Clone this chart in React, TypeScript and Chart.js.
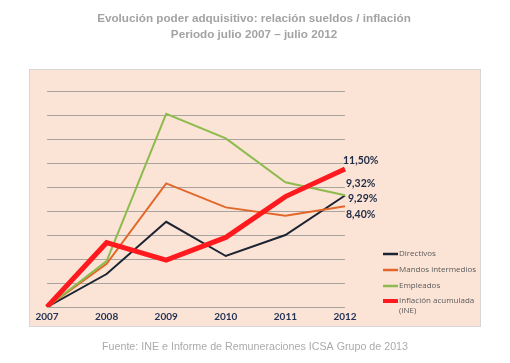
import React, { useEffect, useRef } from 'react';
import { Chart, registerables } from 'chart.js';
Chart.register(...registerables);

const years = ['2007', '2008', '2009', '2010', '2011', '2012'];
const directivos = [0, 2.75, 7.1, 4.25, 6.0, 9.29];
const mandos = [0, 3.6, 10.3, 8.3, 7.6, 8.4];
const empleados = [0, 3.83, 16.1, 14.05, 10.4, 9.32];
const inflacion = [0, 5.36, 3.9, 5.8, 9.2, 11.5];

const yMin = 0;
const yMax = 18;
const yStep = 2;

const titleLines = [
  'Evolución poder adquisitivo: relación sueldos / inflación',
  'Periodo julio 2007 – julio 2012',
];
const footer = 'Fuente: INE e Informe de Remuneraciones ICSA Grupo de 2013';

const endLabels = [
  { text: '11,50%', value: 11.5, dx: -2, dy: -8 },
  { text: '9,32%', value: 9.32, dx: 1, dy: -12 },
  { text: '9,29%', value: 9.29, dx: 3, dy: 3 },
  { text: '8,40%', value: 8.4, dx: 1, dy: 8 },
];

const series = [
  { name: 'Directivos', data: directivos, color: '#1C2333', width: 2 },
  { name: 'Mandos intermedios', data: mandos, color: '#E2672A', width: 2 },
  { name: 'Empleados', data: empleados, color: '#8DBB4E', width: 2 },
  { name: 'Inflación acumulada\n(INE)', data: inflacion, color: '#FF1A1F', width: 5 },
];

export default function App() {
  const ref = useRef<HTMLCanvasElement>(null);
  useEffect(() => {
    const deco = {
      id: 'deco',
      beforeDraw(chart: any) {
        const ctx = chart.ctx;
        ctx.save();
        ctx.fillStyle = '#ffffff';
        ctx.fillRect(0, 0, chart.width, chart.height);
        ctx.fillStyle = '#FBE4D5';
        ctx.fillRect(29.5, 69.5, 451, 257);
        ctx.strokeStyle = '#D6D6D6';
        ctx.lineWidth = 1;
        ctx.strokeRect(29.5, 69.5, 451, 257);
        ctx.restore();
      },
      afterDraw(chart: any) {
        const ctx = chart.ctx;
        ctx.save();
        ctx.textAlign = 'center';
        ctx.textBaseline = 'middle';
        ctx.fillStyle = '#A3A3A3';
        ctx.font = 'bold 11.7px "Liberation Sans", Arial, sans-serif';
        ctx.fillText(titleLines[0], 254, 19);
        ctx.fillText(titleLines[1], 254, 35);
        ctx.font = '10.7px "Liberation Sans", Arial, sans-serif';
        ctx.fillStyle = '#ABABAB';
        ctx.fillText(footer, 255, 347);

        const xs = chart.scales.x;
        const ys = chart.scales.y;
        const xEnd = xs.getPixelForValue(years.length - 1);
        ctx.textAlign = 'left';
        ctx.fillStyle = '#1F2A44';
        ctx.font = 'bold 10.5px Lato, sans-serif';
        endLabels.forEach((l) => {
          ctx.fillText(l.text, xEnd + l.dx, ys.getPixelForValue(l.value) + l.dy);
        });

        // legend
        const lx = 383;
        const ly = [254, 270, 286, 301];
        ctx.font = '8px "Open Sans", sans-serif';
        series.forEach((s, i) => {
          ctx.strokeStyle = s.color;
          ctx.lineWidth = s.width === 5 ? 4 : 2.5;
          ctx.beginPath();
          ctx.moveTo(lx, ly[i]);
          ctx.lineTo(lx + 15, ly[i]);
          ctx.stroke();
          ctx.fillStyle = '#5A5A5A';
          s.name.split('\n').forEach((t, j) => {
            ctx.fillText(t, lx + 16, ly[i] + j * 10);
          });
        });
        ctx.restore();
      },
    };

    const chart = new Chart(ref.current as HTMLCanvasElement, {
      type: 'line',
      data: {
        labels: years,
        datasets: series.map((s, i) => ({
          label: s.name,
          data: s.data,
          borderColor: s.color,
          backgroundColor: s.color,
          borderWidth: s.width,
          pointRadius: 0,
          tension: 0,
          fill: false,
          order: i === 3 ? 0 : 4 - i,
        })),
      },
      options: {
        responsive: false,
        animation: false,
        plugins: { legend: { display: false }, tooltip: { enabled: false }, title: { display: false } },
        layout: { padding: { left: 47, right: 165, top: 91, bottom: 40 } },
        scales: {
          x: {
            offset: false,
            grid: { display: false, drawTicks: false },
            border: { display: false },
            afterFit: (scale: any) => {
              scale.height = 16;
            },
            ticks: {
              font: { family: 'Lato', weight: 'bold', size: 10 },
              color: '#243355',
              padding: 4,
              maxRotation: 0,
              autoSkip: false,
            },
          },
          y: {
            min: yMin,
            max: yMax,
            ticks: { display: false, stepSize: yStep },
            grid: { color: '#A8A49F', drawTicks: false, lineWidth: 1 },
            border: { display: false },
          },
        },
      },
      plugins: [deco],
    });
    return () => chart.destroy();
  }, []);
  return (
    <div style={{ position: 'absolute', left: 0, top: 0, width: 510, height: 363, background: '#fff' }}>
      <canvas ref={ref} width={510} height={363} style={{ display: 'block' }} />
    </div>
  );
}
